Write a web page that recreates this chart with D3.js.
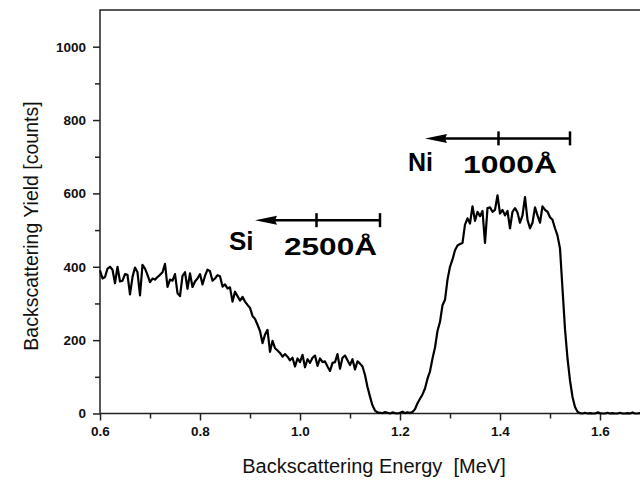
<!DOCTYPE html>
<html>
<head>
<meta charset="utf-8">
<script src="https://cdnjs.cloudflare.com/ajax/libs/d3/7.8.5/d3.min.js"></script>
<style>
  body { margin: 0; background: #fff; }
  .axis path, .axis line { stroke: #222; stroke-width: 1.5px; }
  .axis text { font-family: "Liberation Sans", Arial, sans-serif; font-weight: bold; font-size: 13.5px; fill: #111; }
</style>
</head>
<body>
<div id="chart"></div>
<script>
// channel calibration of the spectrum (MeV)
const energyStart = 0.6;
const energyStep = 0.005;

// substrate (Si) part of the spectrum, 0.600 .. 1.160 MeV
const siYield = [
  390, 368, 372, 395, 400, 392, 355, 400, 360, 362, 380, 378, 325, 372, 398, 385, 322, 405, 395, 378,
  358, 368, 365, 372, 378, 385, 408, 345, 365, 362, 380, 328, 320, 375, 385, 340, 382, 345, 360, 368,
  380, 352, 375, 392, 388, 362, 368, 377, 374, 346, 352, 341, 344, 305, 332, 320, 308, 318, 305, 296,
  288, 266, 258, 242, 225, 192, 215, 228, 168, 198, 178, 172, 165, 155, 162, 155, 145, 152, 128, 150,
  140, 160, 126, 148, 138, 152, 158, 130, 150, 140, 142, 128, 116, 138, 140, 162, 122, 152, 158, 145,
  132, 148, 120, 142, 136, 128, 105, 72, 46, 22, 8, 3, 2
];
// gap + Ni film + tail, 1.165 .. 1.700 MeV
const niYield = [
  1, 4, 2, 0, 3, 1, 0, 2, 5, 1, 3, 2, 4,
  12, 28, 40, 52, 68, 95, 115, 150, 180, 225, 250, 295, 310, 365,
  400, 420, 445, 458, 462, 465, 515, 532, 518, 565, 525, 550, 538, 552, 465, 560, 562, 550, 555, 595,
  545, 555, 540, 552, 505,
  550, 560, 548, 520, 540, 590, 528, 505, 520, 562, 540, 520, 565, 555, 550, 535, 528, 505, 485, 450,
  340, 230, 150, 90, 45, 18, 5, 1,
  0, 2, 0, 1, 0, 0, 3, 1, 0, 0, 2, 0, 1, 0, 0, 2, 0, 0, 1, 0, 3, 0, 0, 1, 0, 2, 0, 0
];

const xMajor = [0.6, 0.8, 1.0, 1.2, 1.4, 1.6];
const xMinor = [0.7, 0.9, 1.1, 1.3, 1.5, 1.7];
const yMajor = [0, 200, 400, 600, 800, 1000];
const yMinor = [100, 300, 500, 700, 900];

// depth scale annotations: [arrow tip, middle tick, end] in MeV, height in counts
const siArrow = { tip: 0.91, mid: 1.033, end: 1.16, y: 527 };
const niArrow = { tip: 1.25, mid: 1.397, end: 1.54, y: 750 };
const labels = [
  { text: "Si", e: 0.858, v: 447, size: 26, len: null },
  { text: "2500Å", e: 0.968, v: 433, size: 23, len: 93 },
  { text: "Ni", e: 1.216, v: 660, size: 25, len: null },
  { text: "1000Å", e: 1.326, v: 656, size: 23, len: 94 }
];

const width = 640, height = 480;
const plot = { left: 100, top: 10, bottom: 413.5, right: 650 };

const spectrum = siYield.concat(niYield).map((v, i) => ({ e: energyStart + i * energyStep, v: v }));

const x = d3.scaleLinear().domain([0.6, 1.7]).range([plot.left, plot.right]);
const y = d3.scaleLinear().domain([0, 1100]).range([plot.bottom, plot.top]);

const svg = d3.select("#chart").append("svg")
  .attr("width", width)
  .attr("height", height);

// frame
svg.append("path")
  .attr("d", `M${plot.left},${plot.bottom}V${plot.top}H${plot.right}V${plot.bottom}`)
  .attr("fill", "none")
  .attr("stroke", "#222")
  .attr("stroke-width", 1.5);

// axes
svg.append("g").attr("class", "axis")
  .attr("transform", `translate(0,${plot.bottom})`)
  .call(d3.axisBottom(x).tickValues(xMinor).tickSize(5).tickFormat(""))
  .call(g => g.select(".domain").remove());
svg.append("g").attr("class", "axis")
  .attr("transform", `translate(0,${plot.bottom})`)
  .call(d3.axisBottom(x).tickValues(xMajor).tickSize(7).tickPadding(6).tickFormat(d3.format(".1f")))
  .call(g => g.select(".domain").attr("d", `M${plot.left},0H${plot.right}`));

svg.append("g").attr("class", "axis")
  .attr("transform", `translate(${plot.left},0)`)
  .call(d3.axisLeft(y).tickValues(yMinor).tickSize(5).tickFormat(""))
  .call(g => g.select(".domain").remove());
svg.append("g").attr("class", "axis")
  .attr("transform", `translate(${plot.left},0)`)
  .call(d3.axisLeft(y).tickValues(yMajor).tickSize(7).tickPadding(7).tickFormat(d3.format("d")))
  .call(g => g.select(".domain").remove());

// spectrum
svg.append("path")
  .datum(spectrum)
  .attr("fill", "none")
  .attr("stroke", "#000")
  .attr("stroke-width", 2.2)
  .attr("stroke-linejoin", "round")
  .attr("d", d3.line().x(d => x(d.e)).y(d => y(d.v)));

// depth arrows
function depthArrow(a) {
  const g = svg.append("g");
  const yy = y(a.y);
  g.append("line")
    .attr("x1", x(a.tip) + 10).attr("x2", x(a.end))
    .attr("y1", yy).attr("y2", yy)
    .attr("stroke", "#000").attr("stroke-width", 2.5);
  g.append("path")
    .attr("d", `M${x(a.tip)},${yy}L${x(a.tip) + 22},${yy - 4.5}L${x(a.tip) + 20},${yy}L${x(a.tip) + 22},${yy + 4.5}Z`)
    .attr("fill", "#000");
  [a.mid, a.end].forEach(e => {
    g.append("line")
      .attr("x1", x(e)).attr("x2", x(e))
      .attr("y1", yy - 7).attr("y2", yy + 7)
      .attr("stroke", "#000").attr("stroke-width", 2.5);
  });
}
depthArrow(siArrow);
depthArrow(niArrow);

labels.forEach(l => {
  const t = svg.append("text")
    .attr("x", x(l.e))
    .attr("y", y(l.v))
    .attr("font-family", "Liberation Sans, Arial, sans-serif")
    .attr("font-weight", "bold")
    .attr("font-size", l.size + "px")
    .attr("fill", "#000")
    .text(l.text);
  if (l.len) t.attr("textLength", l.len).attr("lengthAdjust", "spacingAndGlyphs");
});

// axis titles
svg.append("text")
  .attr("x", 374)
  .attr("y", 473)
  .attr("text-anchor", "middle")
  .attr("font-family", "Liberation Sans, Arial, sans-serif")
  .attr("font-size", "20px")
  .attr("fill", "#111")
  .style("white-space", "pre")
  .text("Backscattering Energy  [MeV]");

svg.append("text")
  .attr("transform", "translate(38,226) rotate(-90)")
  .attr("text-anchor", "middle")
  .attr("font-family", "Liberation Sans, Arial, sans-serif")
  .attr("font-size", "19.5px")
  .attr("fill", "#111")
  .text("Backscattering Yield [counts]");
</script>
</body>
</html>
